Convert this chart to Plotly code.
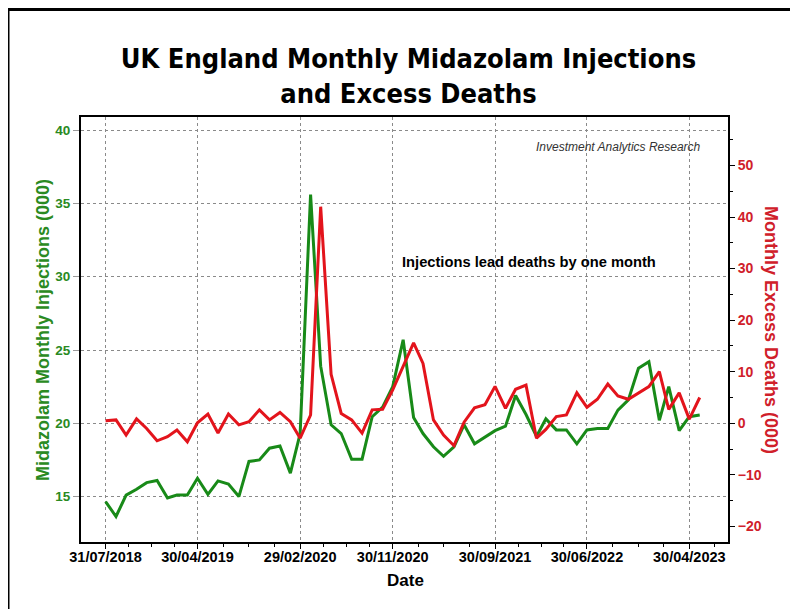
import pandas as pd
import plotly.graph_objects as go

# ---- data ----
start_month = "2018-07-31"
injections_000 = [
    14.66, 13.64, 15.1, 15.5, 15.95, 16.1, 14.9, 15.1, 15.1, 16.25,
    15.15, 16.07, 15.86, 15.0, 17.4, 17.5, 18.3, 18.45, 16.6, 19.3,
    35.6, 23.9, 19.9, 19.3, 17.55, 17.55, 20.45, 21.1, 22.5, 25.7,
    20.4, 19.3, 18.4, 17.75, 18.4, 19.9, 18.6, 19.05, 19.5, 19.8,
    21.9, 20.6, 19.1, 20.3, 19.55, 19.55, 18.6, 19.55, 19.65, 19.65,
    20.9, 21.6, 23.75, 24.2, 20.2, 22.5, 19.5, 20.45, 20.57,
]
excess_deaths_000 = [
    0.5, 0.65, -2.3, 0.85, -1.0, -3.4, -2.6, -1.3, -3.6, 0.1,
    1.8, -1.9, 1.8, -0.3, 0.3, 2.6, 0.65, 2.1, 0.3, -2.9,
    1.6, 42.0, 9.5, 1.9, 0.65, -1.9, 2.6, 2.7, 6.5, 11.0,
    15.6, 11.6, 0.65, -2.3, -4.35, 0.2, 3.0, 3.6, 7.15, 2.9,
    6.6, 7.4, -2.9, -1.2, 1.3, 1.6, 5.9, 3.1, 4.65, 7.6,
    5.3, 4.65, 5.8, 7.1, 10.0, 2.7, 5.9, 0.8, 5.0,
]
x_tick_dates = ["2018-07-31", "2019-04-30", "2020-02-29", "2020-11-30",
                "2021-09-30", "2022-06-30", "2023-04-30"]
x_tick_labels = ["31/07/2018", "30/04/2019", "29/02/2020", "30/11/2020",
                 "30/09/2021", "30/06/2022", "30/04/2023"]
left_ticks = [15, 20, 25, 30, 35, 40]
right_ticks = [-20, -10, 0, 10, 20, 30, 40, 50]

dates = pd.date_range(start_month, periods=len(injections_000), freq="ME")

# minor x ticks: quarter divisions between the labelled dates
major = pd.to_datetime(x_tick_dates)
minor_x = []
for a, b in zip(major[:-1], major[1:]):
    for k in (1, 2, 3):
        minor_x.append(a + (b - a) * k / 4)
minor_x.append(major[-1] + (major[-1] - major[-2]) / 4)

GREEN = "#188a18"
GREEN_TXT = "#2a8a22"
RED = "#e3141c"
RED_TXT = "#d0202a"
SANS = "Liberation Sans"

fig = go.Figure()
fig.add_trace(go.Scatter(x=dates, y=injections_000, mode="lines",
                         line=dict(color=GREEN, width=3), yaxis="y",
                         name="Midazolam Monthly Injections (000)"))
fig.add_trace(go.Scatter(x=dates, y=excess_deaths_000, mode="lines",
                         line=dict(color=RED, width=3), yaxis="y2",
                         name="Monthly Excess Deaths (000)"))

# page offset of the plot div (body margin)
OFF = 8
W, H = 798, 609
# plot area in page pixels: x 81..728, y 117..542
L, T = 81 - OFF, 117 - OFF
R, B = W - (728 - OFF), H - (542 - OFF)
pw, ph = W - L - R, H - T - B


def px(xp):
    return (xp - OFF - L) / pw


def py(yp):
    return (H - B - (yp - OFF)) / ph


fig.update_layout(
    width=W, height=H,
    margin=dict(l=L, r=R, t=T, b=B, autoexpand=False),
    paper_bgcolor="white", plot_bgcolor="white",
    showlegend=False,
    title=dict(text="UK England Monthly Midazolam Injections<br>and Excess Deaths",
               font=dict(family="DejaVu Sans Condensed", size=27, color="black",
                         weight="bold"),
               x=px(408.5), xref="paper", xanchor="center",
               y=1 - (75 - OFF - 7) / H, yref="container", yanchor="middle"),
    xaxis=dict(type="date", range=["2018-05-19", "2023-08-23"],
               tickmode="array", tickvals=x_tick_dates, ticktext=x_tick_labels,
               tickfont=dict(family=SANS, size=14.5, color="black", weight="bold"),
               ticks="outside", ticklen=5, tickcolor="black",
               ticklabelstandoff=-4,
               minor=dict(tickvals=minor_x, ticks="outside", ticklen=3,
                          tickcolor="black", showgrid=False),
               showgrid=True, gridcolor="#8a8a8a", gridwidth=1, griddash="3px,3px",
               showline=True, linecolor="black", linewidth=2, mirror=True,
               zeroline=False),
    yaxis=dict(range=[11.9, 40.9], tickmode="array", tickvals=left_ticks,
               tickfont=dict(family=SANS, size=13.5, color=GREEN_TXT, weight="bold"),
               ticks="outside", ticklen=6, tickcolor="#9a9a9a",
               showgrid=True, gridcolor="#8a8a8a", gridwidth=1, griddash="3px,3px",
               showline=True, linecolor="black", linewidth=2, mirror=True,
               zeroline=False),
    yaxis2=dict(range=[-23.03, 59.4], overlaying="y", side="right",
                tickmode="array", tickvals=right_ticks,
                tickfont=dict(family=SANS, size=14, color=RED_TXT, weight="bold"),
                ticks="outside", ticklen=5, tickcolor="black",
                minor=dict(ticks="outside", ticklen=3, tickcolor="black",
                           dtick=5, tick0=0, showgrid=False),
                showgrid=False, zeroline=False,
                showline=True, linecolor="black", linewidth=2),
)

annotations = [
    dict(text="Midazolam Monthly Injections (000)", x=px(43), y=py(330),
         textangle=-90, font=dict(family=SANS, size=18, color=GREEN_TXT, weight="bold")),
    dict(text="Monthly Excess Deaths (000)", x=px(771), y=py(330),
         textangle=90, font=dict(family=SANS, size=18, color=RED_TXT, weight="bold")),
    dict(text="Date", x=px(405), y=py(580),
         font=dict(family=SANS, size=17, color="black", weight="bold")),
    dict(text="Investment Analytics Research", x=px(703), y=py(147), xanchor="right",
         font=dict(family=SANS, size=12, color="#333333", style="italic")),
    dict(text="Injections lead deaths by one month", x=px(400), y=py(262), xanchor="left",
         font=dict(family=SANS, size=14.7, color="black", weight="bold")),
]
for a in annotations:
    a.setdefault("xanchor", "center")
    a.update(xref="paper", yref="paper", yanchor="middle", showarrow=False)
    fig.add_annotation(**a)

# outer frame (top and left edges visible in the reference)
fig.add_shape(type="line", xref="paper", yref="paper",
              x0=px(8), x1=px(830), y0=py(9.5), y1=py(9.5),
              line=dict(color="black", width=3))
fig.add_shape(type="line", xref="paper", yref="paper",
              x0=px(8), x1=px(8), y0=py(9.5), y1=py(640),
              line=dict(color="black", width=3))

fig.write_html("out.html")
